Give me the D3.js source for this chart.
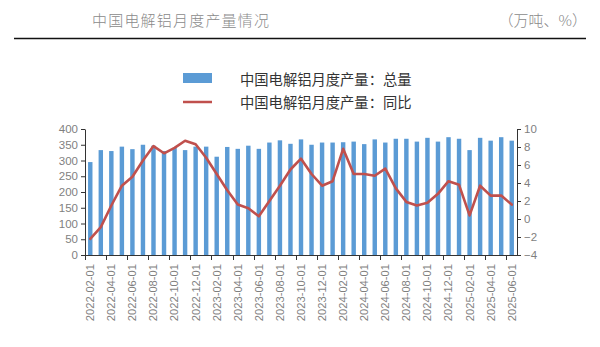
<!DOCTYPE html>
<html><head><meta charset="utf-8">
<script src="https://cdn.jsdelivr.net/npm/d3@7"></script>
<style>
html,body{margin:0;padding:0;background:#fff;}
svg{display:block;font-family:"Liberation Sans",Arial,sans-serif;}
</style></head>
<body><svg id="c" width="600" height="347"></svg>
<script>
const months = ["2022-02-01","2022-03-01","2022-04-01","2022-05-01","2022-06-01","2022-07-01","2022-08-01","2022-09-01","2022-10-01","2022-11-01","2022-12-01",
"2023-01-01","2023-02-01","2023-03-01","2023-04-01","2023-05-01","2023-06-01","2023-07-01","2023-08-01","2023-09-01","2023-10-01","2023-11-01","2023-12-01",
"2024-01-01","2024-02-01","2024-03-01","2024-04-01","2024-05-01","2024-06-01","2024-07-01","2024-08-01","2024-09-01","2024-10-01","2024-11-01","2024-12-01",
"2025-01-01","2025-02-01","2025-03-01","2025-04-01","2025-05-01","2025-06-01"];
const totalOutput = [295,333,330,344,336,350,347,330,340,333,344,
344,312,343,337,347,337,357,364,353,367,350,357,
357,358,360,352,367,357,369,369,360,372,360,374,
369,333,372,363,374,363];
const yoyGrowth = [-2.2,-0.9,1.5,3.7,4.7,6.5,8.1,7.3,7.9,8.7,8.3,
6.8,5.0,3.2,1.6,1.2,0.3,2.0,3.7,5.5,6.7,5.0,3.7,
4.2,7.8,5.0,5.0,4.8,5.6,3.4,1.9,1.5,1.8,2.8,4.2,
3.8,0.4,3.7,2.6,2.6,1.6];
const leftTicks = [0,50,100,150,200,250,300,350,400];
const rightTicks = [-4,-2,0,2,4,6,8,10];
const title = "中国电解铝月度产量情况";
const unit = "（万吨、%）";
const seriesNames = ["中国电解铝月度产量：总量","中国电解铝月度产量：同比"];

const svg = d3.select("#c");
const L = 85, R = 517, T = 129, B = 255;
const x = d3.scaleBand().domain(months).range([L, R]).padding(0);
const yL = d3.scaleLinear().domain([0,400]).range([B,T]);
const yR = d3.scaleLinear().domain([-4,10]).range([B,T]);
const bw = x.bandwidth();
const barW = bw*0.42;
const cjk = '"Noto Sans CJK SC","Noto Sans",sans-serif';

// header
svg.append("text").attr("x",92).attr("y",26).attr("font-family",cjk).attr("font-size",15)
  .attr("letter-spacing",1.2).attr("fill","#8a8a8a").attr("font-weight",300).text(title);
svg.append("text").attr("x",587).attr("y",26).attr("text-anchor","end").attr("font-family",cjk).attr("font-size",15)
  .attr("fill","#8a8a8a").attr("font-weight",300).text(unit);
svg.append("line").attr("x1",14).attr("x2",586).attr("y1",38.5).attr("y2",38.5).attr("stroke","#111").attr("stroke-width",1.3);

// legend
svg.append("rect").attr("x",183).attr("y",73).attr("width",29).attr("height",10).attr("fill","#5B9BD5");
svg.append("line").attr("x1",183).attr("x2",212).attr("y1",102).attr("y2",102).attr("stroke","#C0504D").attr("stroke-width",2.5);
seriesNames.forEach((n,i)=>{
  svg.append("text").attr("x",240).attr("y",80+i*22.5).attr("dy","0.36em").attr("font-family",cjk)
    .attr("font-size",14.3).attr("fill","#333").text(n);
});

// bars
svg.append("g").selectAll("rect").data(months).join("rect")
  .attr("x",(d)=>x(d)+bw/2-barW/2).attr("width",barW)
  .attr("y",(d,i)=>yL(totalOutput[i])).attr("height",(d,i)=>B-yL(totalOutput[i]))
  .attr("fill","#5B9BD5");

// line
const line = d3.line().x((d,i)=>x(months[i])+bw/2).y(d=>yR(d));
svg.append("path").datum(yoyGrowth).attr("d",line).attr("fill","none")
  .attr("stroke","#C0504D").attr("stroke-width",2.6).attr("stroke-linejoin","round").attr("stroke-linecap","round");

const axisColor = "#333";
const labelColor = "#7f7f7f";
// left axis
const gl = svg.append("g").attr("transform",`translate(${L},0)`)
  .call(d3.axisLeft(yL).tickValues(leftTicks).tickSize(4).tickSizeOuter(0).tickPadding(3));
// right axis
const gr = svg.append("g").attr("transform",`translate(${R},0)`)
  .call(d3.axisRight(yR).tickValues(rightTicks).tickSize(4).tickSizeOuter(0).tickPadding(3).tickFormat(d=>d<0?"\u2212"+Math.abs(d):d));
[gl,gr].forEach(g=>{
  g.select(".domain").attr("stroke",axisColor);
  g.selectAll(".tick line").attr("stroke",axisColor);
  g.selectAll(".tick text").attr("fill",labelColor).attr("font-size",11.5).attr("font-family","Liberation Sans,Arial,sans-serif");
});

// bottom axis
const gb = svg.append("g");
gb.append("line").attr("x1",L).attr("x2",R).attr("y1",B+0.5).attr("y2",B+0.5).attr("stroke",axisColor);
const tickMonths = months.filter((d,i)=>i%2===0);
gb.selectAll("line.t").data(tickMonths).join("line").attr("class","t")
  .attr("x1",d=>Math.round(x(d))+0.5).attr("x2",d=>Math.round(x(d))+0.5).attr("y1",B).attr("y2",B+5).attr("stroke",axisColor);
gb.selectAll("text").data(tickMonths).join("text")
  .attr("transform",d=>`translate(${x(d)+bw/2},264) rotate(-90)`)
  .attr("text-anchor","end").attr("dy","0.35em").attr("font-size",11.2).attr("fill",labelColor)
  .attr("font-family","Liberation Sans,Arial,sans-serif").text(d=>d);
</script></body></html>
